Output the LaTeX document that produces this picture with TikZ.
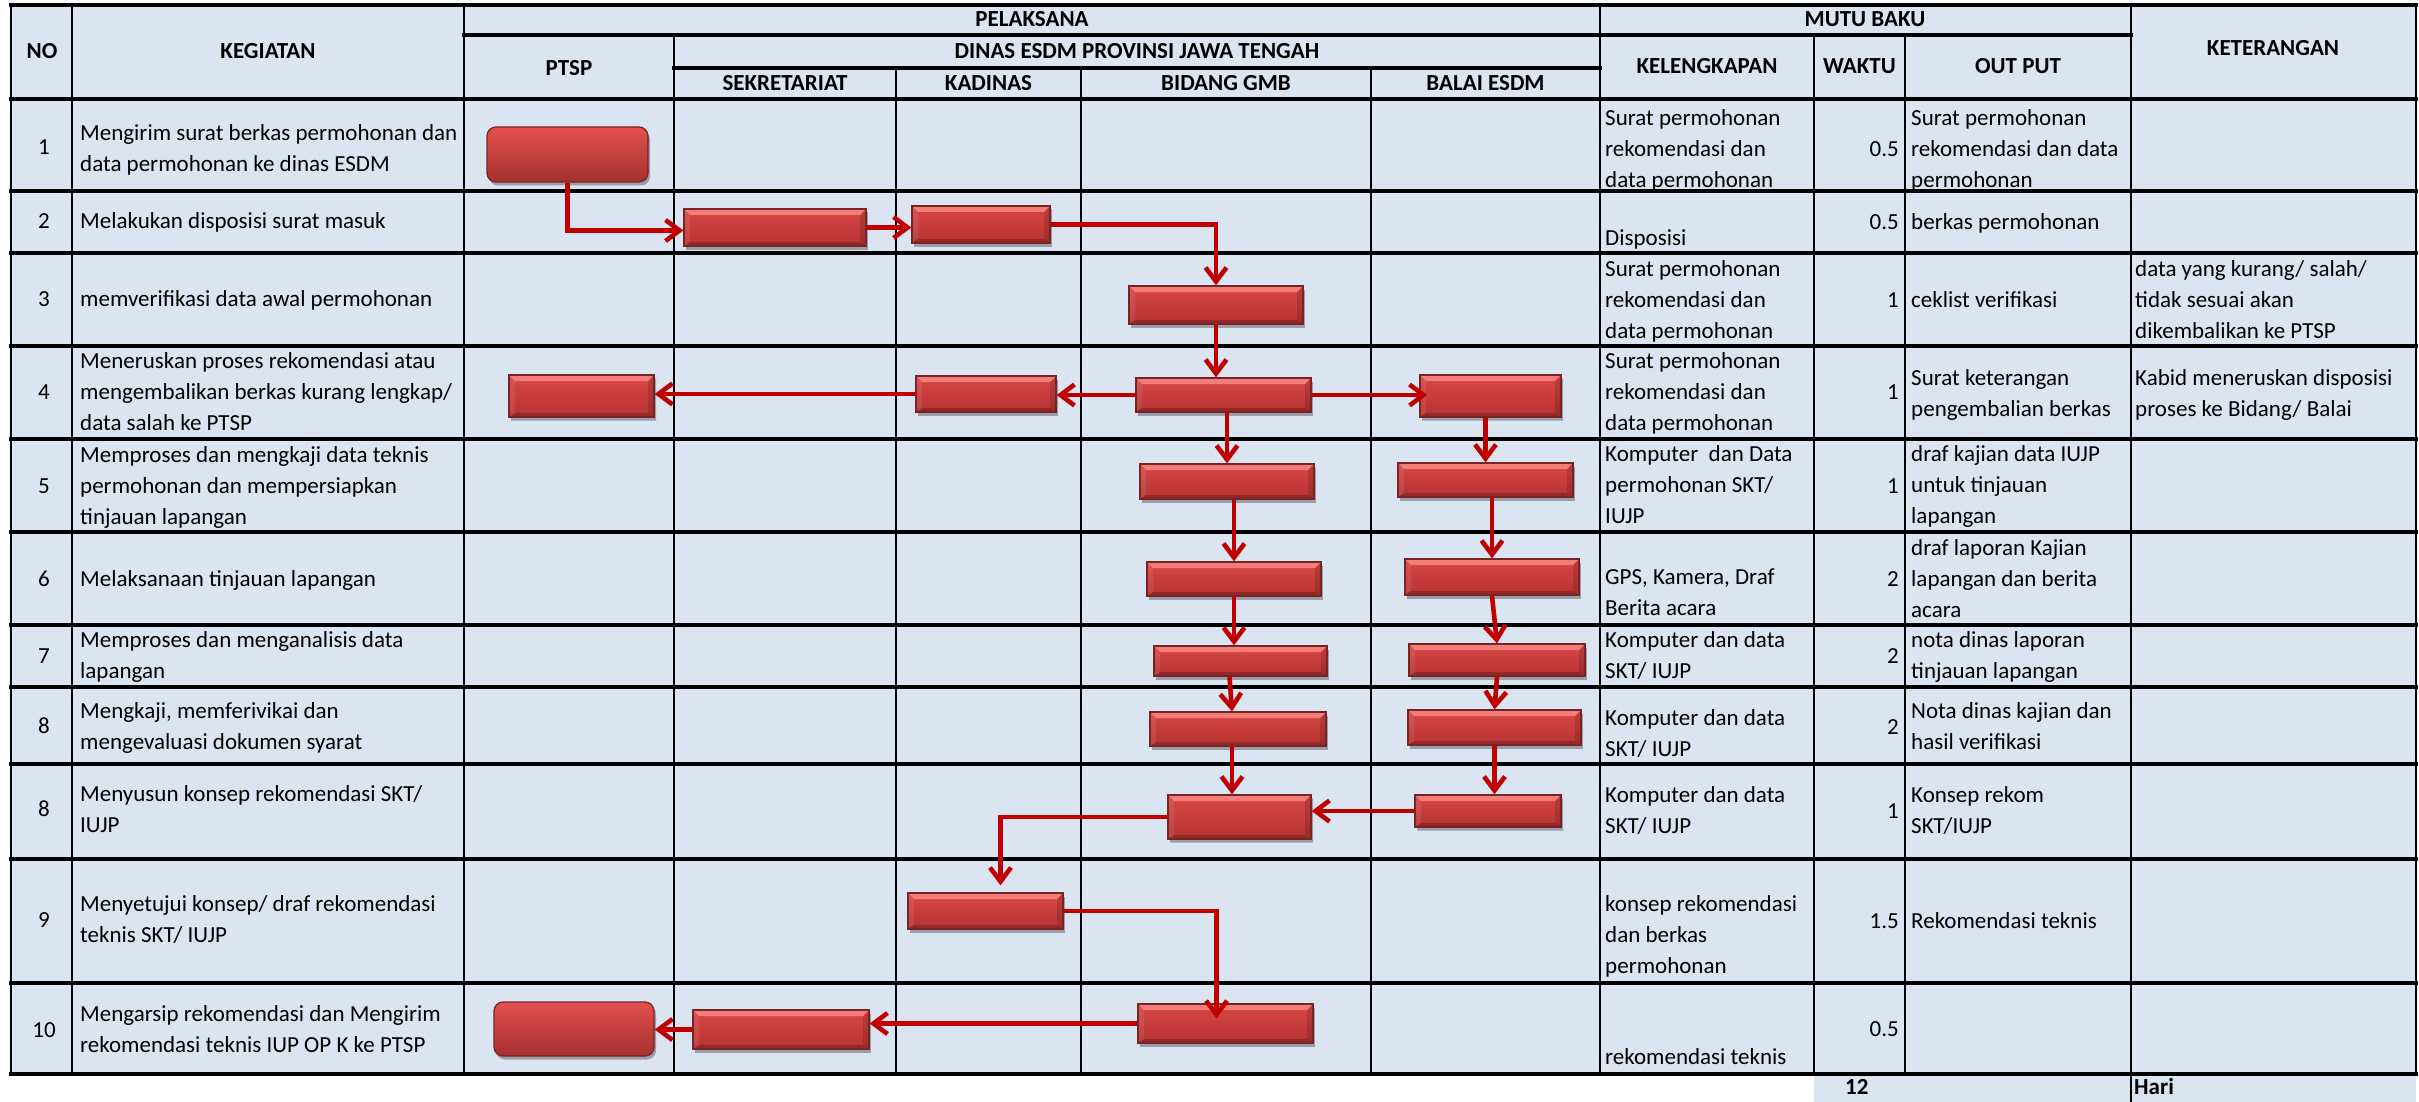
\documentclass[tikz,border=0pt]{standalone}
\usepackage{fontspec}
\setmainfont{Carlito}
\usetikzlibrary{arrows.meta,shadows,shapes.misc}
\definecolor{cellbg}{RGB}{219,229,241}
\definecolor{arrred}{RGB}{192,0,0}
\definecolor{boxtop}{RGB}{216,72,70}
\definecolor{boxbot}{RGB}{182,50,50}
\definecolor{boxedge}{RGB}{120,36,36}
\definecolor{bevlight}{RGB}{250,135,132}
\definecolor{bevdark}{RGB}{120,32,32}
\definecolor{rndtop}{RGB}{226,80,78}
\definecolor{rndbot}{RGB}{166,48,48}
\newcounter{tcnt}
\newcommand\nl{\\\strut}
\newcommand\ct[4][west]{\stepcounter{tcnt}\node[cell,anchor=#1] (t\arabic{tcnt}) at (#2,#3) {\strut#4};}
\newcommand\hd[3]{\stepcounter{tcnt}\node[cell,font=\fontsize{23}{31}\selectfont\bfseries,anchor=center] (t\arabic{tcnt}) at (#1,#2) {\strut#3};}
\newcommand\bevelpic{%
  \fill[bevlight,opacity=0.85] (path picture bounding box.north west) -- (path picture bounding box.north east) -- ([shift={(-6pt,-6pt)}]path picture bounding box.north east) -- ([shift={(6pt,-6pt)}]path picture bounding box.north west) -- cycle;
  \fill[black,opacity=0.13] (path picture bounding box.north east) -- (path picture bounding box.south east) -- ([shift={(-6pt,4pt)}]path picture bounding box.south east) -- ([shift={(-6pt,-6pt)}]path picture bounding box.north east) -- cycle;
  \fill[bevdark,opacity=0.55] (path picture bounding box.south west) -- (path picture bounding box.south east) -- ([shift={(-6pt,4pt)}]path picture bounding box.south east) -- ([shift={(6pt,4pt)}]path picture bounding box.south west) -- cycle;
  \fill[white,opacity=0.08] (path picture bounding box.north west) -- ([shift={(6pt,-6pt)}]path picture bounding box.north west) -- ([shift={(6pt,4pt)}]path picture bounding box.south west) -- (path picture bounding box.south west) -- cycle;
}
\tikzset{
  cell/.style={inner sep=0pt,align=left,font=\fontsize{23}{31}\selectfont,text=black},
  hl/.style={line width=3.4pt,line cap=rect},
  vl/.style={line width=2.6pt,line cap=rect},
  boxcommon/.style={draw=boxedge,line width=1.3pt,inner sep=0pt,
    drop shadow={shadow xshift=2pt,shadow yshift=-3.5pt,opacity=0.3,fill=black}},
  bevbox/.style={rectangle,boxcommon,top color=boxtop,bottom color=boxbot,path picture={\bevelpic}},
  snipbox/.style={chamfered rectangle,chamfered rectangle corners=south west,
    chamfered rectangle xsep=8pt,chamfered rectangle ysep=8pt,
    boxcommon,top color=boxtop,bottom color=boxbot,path picture={\bevelpic}},
  rndbox/.style={rectangle,rounded corners=9pt,boxcommon,top color=rndtop,bottom color=rndbot},
  arr/.style={draw=arrred,line width=4.6pt,line join=miter,-{Straight Barb[length=14pt,width=21pt]}}
}
\begin{document}
\begin{tikzpicture}[x=1pt,y=-1pt]
\useasboundingbox (0,0) rectangle (2419,1102);
\fill[white] (0,0) rectangle (2419,1102);
% background cells
\fill[cellbg] (11,5) rectangle (2416,1074);
\fill[cellbg] (1814,1074) rectangle (2416,1102);
% grid
\draw[hl] (11,5) -- (2416,5);
\draw[hl] (464,35) -- (2131,35);
\draw[hl] (674,68) -- (1600,68);
\foreach \yy in {99,191,253,346,439,532,625,687,764,859,983,1074}
  \draw[hl] (11,\yy) -- (2416,\yy);
\draw[vl] (11,5) -- (11,1074);
\draw[vl] (2416,5) -- (2416,1074);
\draw[vl] (72,5) -- (72,1074);
\draw[vl] (464,5) -- (464,1074);
\draw[vl] (674,35) -- (674,1074);
\draw[vl] (896,68) -- (896,1074);
\draw[vl] (1081,68) -- (1081,1074);
\draw[vl] (1371,68) -- (1371,1074);
\draw[vl] (1600,5) -- (1600,1074);
\draw[vl] (1814,35) -- (1814,1074);
\draw[vl] (1905,35) -- (1905,1074);
\draw[vl] (2131,5) -- (2131,1102);

% headers
\hd{42}{52}{NO}
\hd{268}{52}{KEGIATAN}
\hd{1032}{20}{PELAKSANA}
\hd{1137}{52}{DINAS ESDM PROVINSI JAWA TENGAH}
\hd{569}{69}{PTSP}
\hd{785}{84}{SEKRETARIAT}
\hd{988.5}{84}{KADINAS}
\hd{1226}{84}{BIDANG GMB}
\hd{1485.5}{84}{BALAI ESDM}
\hd{1865}{20}{MUTU BAKU}
\hd{1707}{67}{KELENGKAPAN}
\hd{1859.5}{67}{WAKTU}
\hd{2018}{67}{OUT PUT}
\hd{2273}{49}{KETERANGAN}

% NO column
\ct[center]{44}{148}{1}
\ct[center]{44}{222}{2}
\ct[center]{44}{300}{3}
\ct[center]{44}{393}{4}
\ct[center]{44}{487}{5}
\ct[center]{44}{580}{6}
\ct[center]{44}{657}{7}
\ct[center]{44}{727}{8}
\ct[center]{44}{810}{8}
\ct[center]{44}{921}{9}
\ct[center]{44}{1031}{10}

% KEGIATAN
\ct{80}{150}{Mengirim surat berkas permohonan dan\nl data permohonan ke dinas ESDM}
\ct{80}{222}{Melakukan disposisi surat masuk}
\ct{80}{300}{memverifikasi data awal permohonan}
\ct{80}{393}{Meneruskan proses rekomendasi atau\nl mengembalikan berkas kurang lengkap/\nl data salah ke PTSP}
\ct{80}{487}{Memproses dan mengkaji data teknis\nl permohonan dan mempersiapkan\nl tinjauan lapangan}
\ct{80}{580}{Melaksanaan tinjauan lapangan}
\ct{80}{657}{Memproses dan menganalisis data\nl lapangan}
\ct{80}{727.5}{Mengkaji, memferivikai dan\nl mengevaluasi dokumen syarat}
\ct{80}{810.5}{Menyusun konsep rekomendasi SKT/\nl IUJP}
\ct{80}{920.5}{Menyetujui konsep/ draf rekomendasi\nl teknis SKT/ IUJP}
\ct{80}{1031}{Mengarsip rekomendasi dan Mengirim\nl rekomendasi teknis IUP OP K ke PTSP}

% KELENGKAPAN
\ct{1605}{150}{Surat permohonan\nl rekomendasi dan\nl data permohonan}
\ct{1605}{239}{Disposisi}
\ct{1605}{301}{Surat permohonan\nl rekomendasi dan\nl data permohonan}
\ct{1605}{393}{Surat permohonan\nl rekomendasi dan\nl data permohonan}
\ct{1605}{486}{Komputer~~dan Data\nl permohonan SKT/\nl IUJP}
\ct{1605}{594}{GPS, Kamera, Draf\nl Berita acara}
\ct{1605}{657}{Komputer dan data\nl SKT/ IUJP}
\ct{1605}{734.5}{Komputer dan data\nl SKT/ IUJP}
\ct{1605}{812}{Komputer dan data\nl SKT/ IUJP}
\ct{1605}{936}{konsep rekomendasi\nl dan berkas\nl permohonan}
\ct{1605}{1058}{rekomendasi teknis}

% WAKTU
\ct[east]{1899}{150}{0.5}
\ct[east]{1899}{223}{0.5}
\ct[east]{1899}{301}{1}
\ct[east]{1899}{393}{1}
\ct[east]{1899}{487}{1}
\ct[east]{1899}{580}{2}
\ct[east]{1899}{657}{2}
\ct[east]{1899}{728}{2}
\ct[east]{1899}{812}{1}
\ct[east]{1899}{922}{1.5}
\ct[east]{1899}{1030}{0.5}

% OUT PUT
\ct{1911}{150}{Surat permohonan\nl rekomendasi dan data\nl permohonan}
\ct{1911}{223}{berkas permohonan}
\ct{1911}{301}{ceklist verifikasi}
\ct{1911}{394.5}{Surat keterangan\nl pengembalian berkas}
\ct{1911}{486}{draf kajian data IUJP\nl untuk tinjauan\nl lapangan}
\ct{1911}{580}{draf laporan Kajian\nl lapangan dan berita\nl acara}
\ct{1911}{657}{nota dinas laporan\nl tinjauan lapangan}
\ct{1911}{727.5}{Nota dinas kajian dan\nl hasil verifikasi}
\ct{1911}{812}{Konsep rekom\nl SKT/IUJP}
\ct{1911}{922}{Rekomendasi teknis}

% KETERANGAN
\ct{2135}{301}{data yang kurang/ salah/\nl tidak sesuai akan\nl dikembalikan ke PTSP}
\ct{2135}{394.5}{Kabid meneruskan disposisi\nl proses ke Bidang/ Balai}

% footer
\ct{1845}{1088}{\textbf{12}}
\ct{2134}{1088}{\textbf{Hari}}

% boxes
\node[rndbox,minimum width=161pt,minimum height=55pt] (b1) at (567.5,154.5) {};
\node[bevbox,minimum width=182pt,minimum height=37pt] (b2s) at (775,227.5) {};
\node[bevbox,minimum width=138pt,minimum height=37pt] (b2k) at (981,224.5) {};
\node[bevbox,minimum width=174pt,minimum height=38pt] (b3) at (1216,305) {};
\node[bevbox,minimum width=175pt,minimum height=34pt] (b4b) at (1223.5,395) {};
\node[bevbox,minimum width=140pt,minimum height=36pt] (b4k) at (986,394) {};
\node[snipbox,minimum width=145pt,minimum height=42pt] (b4p) at (581.5,396) {};
\node[snipbox,minimum width=141pt,minimum height=42pt] (b4l) at (1490.5,396) {};
\node[bevbox,minimum width=174pt,minimum height=35pt] (b5b) at (1227,481.5) {};
\node[bevbox,minimum width=175pt,minimum height=34pt] (b5l) at (1485.5,480) {};
\node[bevbox,minimum width=174pt,minimum height=34pt] (b6b) at (1234,579) {};
\node[bevbox,minimum width=174pt,minimum height=36pt] (b6l) at (1492,577) {};
\node[bevbox,minimum width=173pt,minimum height=30pt] (b7b) at (1240.5,661) {};
\node[bevbox,minimum width=176pt,minimum height=32pt] (b7l) at (1497,660) {};
\node[bevbox,minimum width=176pt,minimum height=34pt] (b8b) at (1238,729) {};
\node[bevbox,minimum width=173pt,minimum height=35pt] (b8l) at (1494.5,727.5) {};
\node[snipbox,minimum width=143pt,minimum height=44pt] (b8bb) at (1239.5,817) {};
\node[snipbox,minimum width=146pt,minimum height=32pt] (b8bl) at (1488,811) {};
\node[bevbox,minimum width=155pt,minimum height=36pt] (b9k) at (985.5,911) {};
\node[bevbox,minimum width=175pt,minimum height=39pt] (b10b) at (1225.5,1023.5) {};
\node[bevbox,minimum width=176pt,minimum height=39pt] (b10s) at (781,1029.5) {};
\node[rndbox,minimum width=160pt,minimum height=54pt] (b10p) at (574,1029) {};

% connectors
\draw[arr] (b1.south) |- ([yshift=-3pt]b2s.west);
\draw[arr] (b2s.east) -- (b2s.east -| b2k.west);
\draw[arr] (b2k.east) -| (b3.north);
\draw[arr] (b3.south) -- (b3.south |- b4b.north);
\draw[arr] (b4b.west) -- (b4b.west -| b4k.east);
\draw[arr] (b4k.west) -- (b4k.west -| b4p.east);
\draw[arr] (b4b.east) -- ([xshift=8pt]b4b.east -| b4l.west);
\draw[arr] (b5b.north |- b4b.south) -- (b5b.north);
\draw[arr] (b5l.north |- b4l.south) -- (b5l.north);
\draw[arr] (b6b.north |- b5b.south) -- (b6b.north);
\draw[arr] (b6l.north |- b5l.south) -- (b6l.north);
\draw[arr] (b6b.south) -- (b6b.south |- b7b.north);
\draw[arr] (b6l.south) -- (b7l.north);
\draw[arr] ([xshift=-11pt]b7b.south) -- ([xshift=-6pt]b8b.north);
\draw[arr] (b7l.south) -- (b8l.north);
\draw[arr] ([xshift=-6pt]b8b.south) -- ([xshift=-6pt]b8b.south |- b8bb.north);
\draw[arr] (b8l.south) -- (b8l.south |- b8bl.north);
\draw[arr] (b8bl.west) -- (b8bl.west -| b8bb.east);
\draw[arr] (b8bb.west) -| ([xshift=15pt,yshift=7pt]b9k.north);
\draw[arr] (b9k.east) -| ([xshift=-9pt,yshift=5pt]b10b.center);
\draw[arr] (b10b.west) -- (b10b.west -| b10s.east);
\draw[arr] (b10s.west) -- (b10s.west -| b10p.east);
\end{tikzpicture}
\end{document}
